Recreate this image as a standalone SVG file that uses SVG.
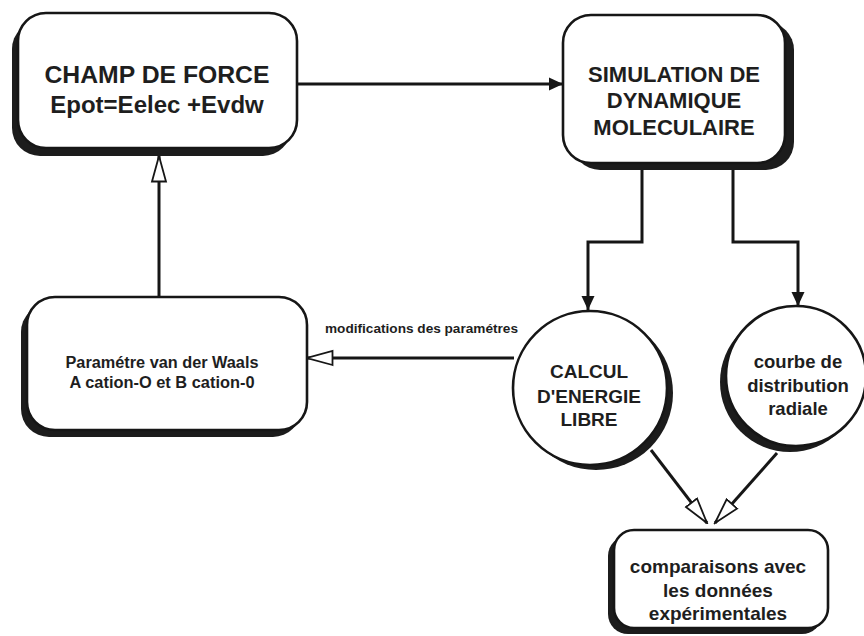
<svg xmlns="http://www.w3.org/2000/svg" width="864" height="636" viewBox="0 0 864 636">
  <style>
    .bg { fill: #ffffff; }
    .shadow { fill: #1c1c1c; }
    .box { fill: #ffffff; stroke: #161616; stroke-width: 2.6; }
    .edge { fill: none; stroke: #161616; stroke-width: 3; }
    .label { font-family: "Liberation Sans", Arial, Helvetica, sans-serif; font-weight: bold; fill: #1e1e1e; text-anchor: middle; }
    .t24 { font-size: 24px; }
    .t22 { font-size: 22px; }
    .t19 { font-size: 19px; }
    .t18 { font-size: 18.5px; }
    .t15 { font-size: 16px; }
    .t11 { font-size: 12.5px; text-anchor: start; }
  </style>
  <defs>
    <marker id="arrowFilled" markerUnits="userSpaceOnUse" markerWidth="16" markerHeight="16" viewBox="0 0 16 16" refX="15" refY="8" orient="auto">
      <path d="M1,1.5 L15,8 L1,14.5 z" fill="#161616"/>
    </marker>
    <marker id="arrowOpen" markerUnits="userSpaceOnUse" markerWidth="28" markerHeight="18" viewBox="0 0 28 18" refX="26.5" refY="9" orient="auto">
      <path d="M1,2 L26.5,9 L1,16 z" fill="#ffffff" stroke="#161616" stroke-width="1.8" stroke-linejoin="miter"/>
    </marker>
  </defs>

  <rect class="bg" x="0" y="0" width="864" height="636"/>

  <!-- connectors -->
  <g id="connectors">
    <!-- force field -> MD simulation -->
    <path class="edge" d="M297,84 L563,84" marker-end="url(#arrowFilled)"/>
    <!-- MD simulation -> free energy -->
    <path class="edge" d="M642,170 L642,242 L588,242 L588,310" marker-end="url(#arrowFilled)"/>
    <!-- MD simulation -> radial distribution -->
    <path class="edge" d="M733,170 L733,242 L798,242 L798,306" marker-end="url(#arrowFilled)"/>
    <!-- free energy -> parameters -->
    <path class="edge" d="M514,358 L307,358" marker-end="url(#arrowOpen)"/>
    <!-- parameters -> force field -->
    <path class="edge" d="M159,297 L159,156" marker-end="url(#arrowOpen)"/>
    <!-- free energy -> comparison -->
    <path class="edge" d="M651,450 L707,523" marker-end="url(#arrowOpen)"/>
    <!-- radial distribution -> comparison -->
    <path class="edge" d="M777,453 L715,523" marker-end="url(#arrowOpen)"/>
    <text class="label t11" x="325" y="333" textLength="193" lengthAdjust="spacingAndGlyphs">modifications des paramétres</text>
  </g>

  <!-- force field -->
  <g id="champ-de-force">
    <rect class="shadow" x="12" y="21" width="279" height="135" rx="28"/>
    <rect class="box" x="18" y="13" width="279" height="135" rx="28"/>
    <text class="label t24" x="157" y="83" textLength="225" lengthAdjust="spacingAndGlyphs">CHAMP DE FORCE</text>
    <text class="label t24" x="157" y="113">Epot=Eelec +Evdw</text>
  </g>

  <!-- molecular dynamics simulation -->
  <g id="simulation">
    <rect class="shadow" x="572" y="22" width="222" height="148" rx="28"/>
    <rect class="box" x="563" y="15" width="222" height="148" rx="28"/>
    <text class="label t22" x="674" y="82">SIMULATION DE</text>
    <text class="label t22" x="674" y="108">DYNAMIQUE</text>
    <text class="label t22" x="674" y="135">MOLECULAIRE</text>
  </g>

  <!-- van der Waals parameters -->
  <g id="parametres">
    <rect class="shadow" x="21" y="304" width="280" height="133" rx="28"/>
    <rect class="box" x="27" y="297" width="280" height="133" rx="28"/>
    <text class="label t15" x="162" y="368" textLength="193" lengthAdjust="spacingAndGlyphs">Paramétre van der Waals</text>
    <text class="label t15" x="162" y="388" textLength="185" lengthAdjust="spacingAndGlyphs">A cation-O et B cation-0</text>
  </g>

  <!-- free energy calculation -->
  <g id="energie-libre">
    <circle class="shadow" cx="596" cy="393" r="77"/>
    <circle class="box" cx="590" cy="388" r="77"/>
    <text class="label t19" x="589" y="378">CALCUL</text>
    <text class="label t19" x="589" y="403">D'ENERGIE</text>
    <text class="label t19" x="589" y="426">LIBRE</text>
  </g>

  <!-- radial distribution curve -->
  <g id="distribution-radiale">
    <circle class="shadow" cx="790" cy="382" r="70"/>
    <circle class="box" cx="796" cy="376" r="70"/>
    <text class="label t18" x="798" y="368">courbe de</text>
    <text class="label t18" x="798" y="392">distribution</text>
    <text class="label t18" x="798" y="415">radiale</text>
  </g>

  <!-- comparison with experimental data -->
  <g id="comparaisons">
    <rect class="shadow" x="608" y="536" width="214" height="98" rx="20"/>
    <rect class="box" x="614" y="530" width="214" height="98" rx="20"/>
    <text class="label t19" x="718" y="573">comparaisons avec</text>
    <text class="label t19" x="718" y="597">les données</text>
    <text class="label t19" x="718" y="620">expérimentales</text>
  </g>
</svg>
